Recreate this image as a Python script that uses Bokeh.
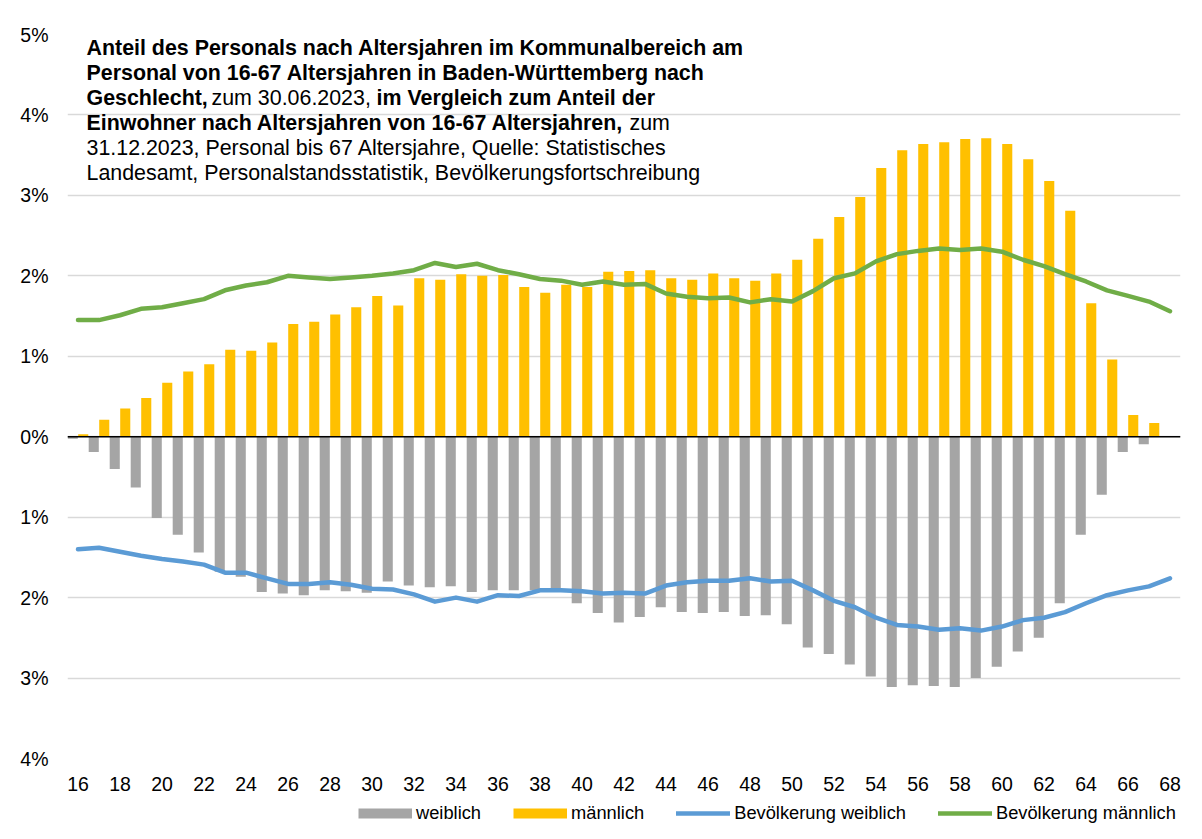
from bokeh.plotting import figure
from bokeh.models import (ColumnDataSource, FixedTicker, CustomJSTickFormatter, Span,
                          Label, Legend, LegendItem, Range1d)
from bokeh.transform import dodge
from bokeh.layouts import column
from bokeh.embed import file_html
from bokeh.resources import INLINE

# ---------------- data (percent) ----------------
ages = list(range(16, 69))

maennlich = [0.03, 0.21, 0.35, 0.48, 0.67, 0.81, 0.90, 1.08, 1.07, 1.17,
             1.40, 1.43, 1.52, 1.61, 1.75, 1.63, 1.97, 1.95, 2.02, 2.00,
             2.01, 1.86, 1.79, 1.89, 1.86, 2.05, 2.06, 2.07, 1.97, 1.95,
             2.03, 1.97, 1.94, 2.03, 2.20, 2.46, 2.73, 2.98, 3.34, 3.56,
             3.64, 3.66, 3.70, 3.71, 3.64, 3.45, 3.18, 2.81, 1.66, 0.96,
             0.27, 0.17, 0.0]

weiblich = [0.025, 0.19, 0.40, 0.63, 1.01, 1.22, 1.44, 1.68, 1.74, 1.93,
            1.95, 1.97, 1.91, 1.92, 1.94, 1.80, 1.85, 1.87, 1.86, 1.93,
            1.91, 1.91, 1.91, 1.90, 2.07, 2.19, 2.31, 2.24, 2.12, 2.18,
            2.19, 2.18, 2.23, 2.22, 2.33, 2.62, 2.70, 2.83, 2.98, 3.11,
            3.09, 3.10, 3.11, 3.00, 2.86, 2.67, 2.50, 2.07, 1.22, 0.72,
            0.19, 0.095, 0.0]

bev_maennlich = [1.45, 1.45, 1.51, 1.59, 1.61, 1.66, 1.71, 1.82, 1.88, 1.92,
                 2.00, 1.98, 1.96, 1.98, 2.00, 2.03, 2.07, 2.16, 2.11, 2.15,
                 2.07, 2.02, 1.96, 1.94, 1.89, 1.93, 1.89, 1.90, 1.78, 1.74,
                 1.72, 1.73, 1.67, 1.71, 1.68, 1.81, 1.97, 2.03, 2.18, 2.27,
                 2.31, 2.34, 2.32, 2.34, 2.30, 2.20, 2.12, 2.02, 1.93, 1.82,
                 1.75, 1.68, 1.56]

bev_weiblich = [1.40, 1.38, 1.43, 1.48, 1.52, 1.55, 1.59, 1.69, 1.69, 1.76,
                1.83, 1.83, 1.81, 1.84, 1.89, 1.90, 1.96, 2.05, 2.00, 2.05,
                1.97, 1.98, 1.91, 1.91, 1.92, 1.95, 1.94, 1.95, 1.85, 1.81,
                1.79, 1.79, 1.76, 1.80, 1.79, 1.91, 2.04, 2.12, 2.25, 2.34,
                2.36, 2.40, 2.38, 2.41, 2.36, 2.28, 2.25, 2.18, 2.07, 1.97,
                1.91, 1.86, 1.76]

x_ticks = list(range(16, 69, 2))
y_ticks = list(range(-4, 6))

series_names = ["weiblich", "männlich", "Bevölkerung weiblich", "Bevölkerung männlich"]

title_lines = [
    [("Anteil des Personals nach Altersjahren im Kommunalbereich am", "bold")],
    [("Personal von 16-67 Altersjahren in Baden-Württemberg nach", "bold")],
    [("Geschlecht,", "bold"), ("zum 30.06.2023,", "normal"), ("im Vergleich zum Anteil der", "bold")],
    [("Einwohner nach Altersjahren von 16-67 Altersjahren,", "bold"), ("zum", "normal")],
    [("31.12.2023, Personal bis 67 Altersjahre, Quelle: Statistisches", "normal")],
    [("Landesamt, Personalstandsstatistik, Bevölkerungsfortschreibung", "normal")],
]
# x offsets (screen px from plot-frame left) of each text segment
title_offsets = [[19], [19], [19, 144, 309], [19, 562], [19], [19]]

FONT = "Liberation Sans"
GREY = "#A5A5A5"
ORANGE = "#FFC000"
BLUE = "#5B9BD5"
GREEN = "#70AD47"

src = ColumnDataSource(dict(
    age=ages,
    w=[-v for v in weiblich],
    m=maennlich,
    bw=[-v for v in bev_weiblich],
    bm=bev_maennlich,
))

# ---------------- main chart ----------------
p = figure(width=1194, height=801, x_range=(15.5, 68.5), y_range=(-4, 5),
           output_backend="svg", toolbar_location=None,
           min_border_left=67, min_border_right=14, min_border_top=34, min_border_bottom=43)
p.outline_line_color = None
p.background_fill_color = "white"
p.border_fill_color = "white"

p.xgrid.visible = False
p.ygrid.ticker = FixedTicker(ticks=y_ticks)
p.ygrid.grid_line_color = "#d9d9d9"
p.ygrid.grid_line_width = 1.3

p.yaxis.ticker = FixedTicker(ticks=y_ticks)
p.yaxis.formatter = CustomJSTickFormatter(code="return Math.round(Math.abs(tick)) + '%';")
p.xaxis.ticker = FixedTicker(ticks=x_ticks)
for ax in (p.xaxis[0], p.yaxis[0]):
    ax.axis_line_color = None
    ax.major_tick_line_color = None
    ax.minor_tick_line_color = None
    ax.major_tick_in = 0
    ax.major_tick_out = 0
    ax.major_label_text_font = FONT
    ax.major_label_text_font_size = "19.5px"
    ax.major_label_text_color = "#000000"
p.yaxis.major_label_standoff = 19
p.xaxis.major_label_standoff = 18

p.vbar(x=dodge("age", -0.25, range=p.x_range), top="w", bottom=0, width=0.48,
       source=src, fill_color=GREY, line_color=None)
p.vbar(x=dodge("age", 0.25, range=p.x_range), top="m", bottom=0, width=0.48,
       source=src, fill_color=ORANGE, line_color=None)

p.add_layout(Span(location=0, dimension="width", line_color="#000000", line_width=1.6))

p.line(x="age", y="bw", source=src, line_color=BLUE, line_width=4.5,
       line_join="round", line_cap="round")
p.line(x="age", y="bm", source=src, line_color=GREEN, line_width=4.5,
       line_join="round", line_cap="round")

baselines = [710.3, 685.3, 660.3, 635.3, 610.3, 585.3]
for line, offs, yb in zip(title_lines, title_offsets, baselines):
    for (txt, weight), xo in zip(line, offs):
        p.add_layout(Label(x=xo, y=yb, x_units="screen", y_units="screen", text=txt,
                           text_font=FONT, text_font_size="21.4px", text_font_style=weight,
                           text_color="#000000", text_baseline="alphabetic", text_align="left"))

# ---------------- legend strip (keys drawn out of view) ----------------
lf = figure(width=1194, height=38, x_range=p.x_range, y_range=Range1d(10, 11),
            output_backend="svg", toolbar_location=None, min_border=0,
            x_axis_type=None, y_axis_type=None)
lf.outline_line_color = None
lf.xgrid.visible = False
lf.ygrid.visible = False
lf.background_fill_color = "white"
lf.border_fill_color = "white"

k_w = lf.line(x="age", y="w", source=src, line_color=GREY, line_width=10, line_cap="butt")
k_m = lf.line(x="age", y="m", source=src, line_color=ORANGE, line_width=10, line_cap="butt")
k_bw = lf.line(x="age", y="bw", source=src, line_color=BLUE, line_width=4.5, line_cap="round")
k_bm = lf.line(x="age", y="bm", source=src, line_color=GREEN, line_width=4.5, line_cap="round")

legend = Legend(items=[
    LegendItem(label=series_names[0], renderers=[k_w]),
    LegendItem(label=series_names[1], renderers=[k_m]),
    LegendItem(label=series_names[2], renderers=[k_bw]),
    LegendItem(label=series_names[3], renderers=[k_bm]),
], orientation="horizontal", location=(291, 15))
legend.label_text_font = FONT
legend.label_text_font_size = "18.3px"
legend.label_text_color = "#000000"
legend.glyph_width = 54
legend.glyph_height = 20
legend.label_height = 20
legend.label_standoff = 4
legend.spacing = 32
legend.padding = 0
legend.margin = 0
legend.border_line_color = None
legend.background_fill_alpha = 0
lf.add_layout(legend)

layout = column(p, lf, spacing=0)
open("out.html", "w").write(file_html(layout, INLINE))
